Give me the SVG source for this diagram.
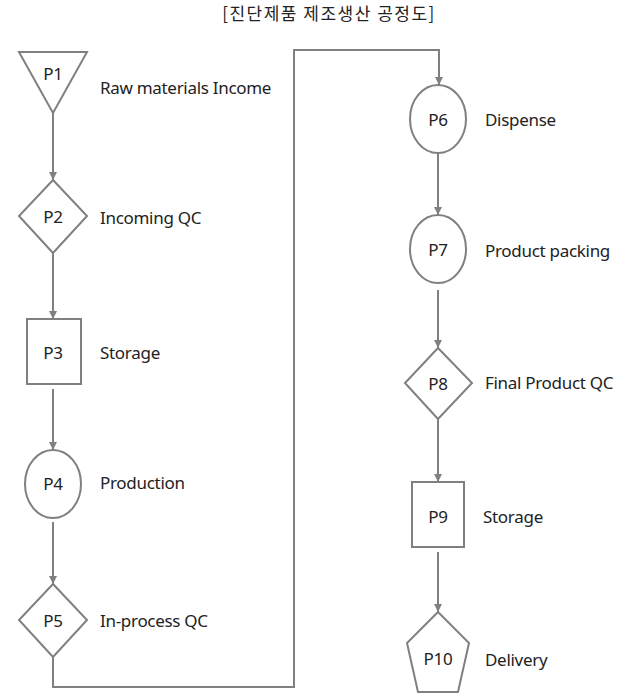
<svg xmlns="http://www.w3.org/2000/svg" width="632" height="700" viewBox="0 0 632 700">
<style>
.shape{fill:#fff;stroke:#808080;stroke-width:2}
.conn{fill:none;stroke:#808080;stroke-width:2}
.id{font-family:"Noto Sans","Open Sans",sans-serif;font-size:17px;fill:#222;text-anchor:middle;letter-spacing:-0.3px}
.lbl{font-family:"Noto Sans","Open Sans",sans-serif;font-size:17px;fill:#222;letter-spacing:-0.3px}
.title{font-family:"Noto Sans CJK KR",sans-serif;font-size:17px;fill:#222;text-anchor:middle}
</style>
<defs>
<marker id="arr" markerWidth="10" markerHeight="10" refX="8" refY="4" orient="auto" markerUnits="userSpaceOnUse">
<path d="M0,0 L8,4 L0,8 Z" fill="#808080"/>
</marker>
</defs>
<rect width="632" height="700" fill="#fff"/>
<text class="title" x="329" y="20" letter-spacing="1.5">[진단제품 제조생산 공정도]</text>
<g id="connectors">
<line class="conn" x1="53" y1="113" x2="53" y2="180" marker-end="url(#arr)"/>
<line class="conn" x1="53" y1="253" x2="53" y2="319" marker-end="url(#arr)"/>
<line class="conn" x1="53" y1="389" x2="53" y2="450" marker-end="url(#arr)"/>
<line class="conn" x1="53" y1="522" x2="53" y2="584" marker-end="url(#arr)"/>
<polyline class="conn" points="53,657 53,687 294,687 294,50 439,50 439,85" marker-end="url(#arr)"/>
<line class="conn" x1="438" y1="153" x2="438" y2="215" marker-end="url(#arr)"/>
<line class="conn" x1="438" y1="290" x2="438" y2="348" marker-end="url(#arr)"/>
<line class="conn" x1="438" y1="419" x2="438" y2="482" marker-end="url(#arr)"/>
<line class="conn" x1="438" y1="552" x2="438" y2="612" marker-end="url(#arr)"/>
</g>
<g id="P1">
<polygon class="shape" points="19,52 87,52 53,113"/>
<text class="id" x="53" y="80">P1</text>
<text class="lbl" x="100" y="94">Raw materials Income</text>
</g>
<g id="P2">
<polygon class="shape" points="53,180 87,216 53,253 19,216"/>
<text class="id" x="53" y="223">P2</text>
<text class="lbl" x="100" y="224">Incoming QC</text>
</g>
<g id="P3">
<rect class="shape" x="27" y="319" width="54" height="65"/>
<text class="id" x="53" y="359">P3</text>
<text class="lbl" x="100" y="359">Storage</text>
</g>
<g id="P4">
<ellipse class="shape" cx="53" cy="484" rx="28" ry="34"/>
<text class="id" x="53" y="490">P4</text>
<text class="lbl" x="100" y="489">Production</text>
</g>
<g id="P5">
<polygon class="shape" points="53,584 87,620 53,657 19,620"/>
<text class="id" x="53" y="627">P5</text>
<text class="lbl" x="100" y="627">In-process QC</text>
</g>
<g id="P6">
<ellipse class="shape" cx="438" cy="119" rx="28" ry="34"/>
<text class="id" x="438" y="126">P6</text>
<text class="lbl" x="485" y="126">Dispense</text>
</g>
<g id="P7">
<ellipse class="shape" cx="438" cy="249" rx="28" ry="34"/>
<text class="id" x="438" y="256">P7</text>
<text class="lbl" x="485" y="257">Product packing</text>
</g>
<g id="P8">
<polygon class="shape" points="438,348 472,383 438,419 405,383"/>
<text class="id" x="438" y="390">P8</text>
<text class="lbl" x="485" y="389">Final Product QC</text>
</g>
<g id="P9">
<rect class="shape" x="412" y="482" width="52" height="65"/>
<text class="id" x="438" y="523">P9</text>
<text class="lbl" x="483" y="523">Storage</text>
</g>
<g id="P10">
<polygon class="shape" points="438,612 469,643 458,692 418,692 407,643"/>
<text class="id" x="438" y="665">P10</text>
<text class="lbl" x="485" y="666">Delivery</text>
</g>
</svg>
